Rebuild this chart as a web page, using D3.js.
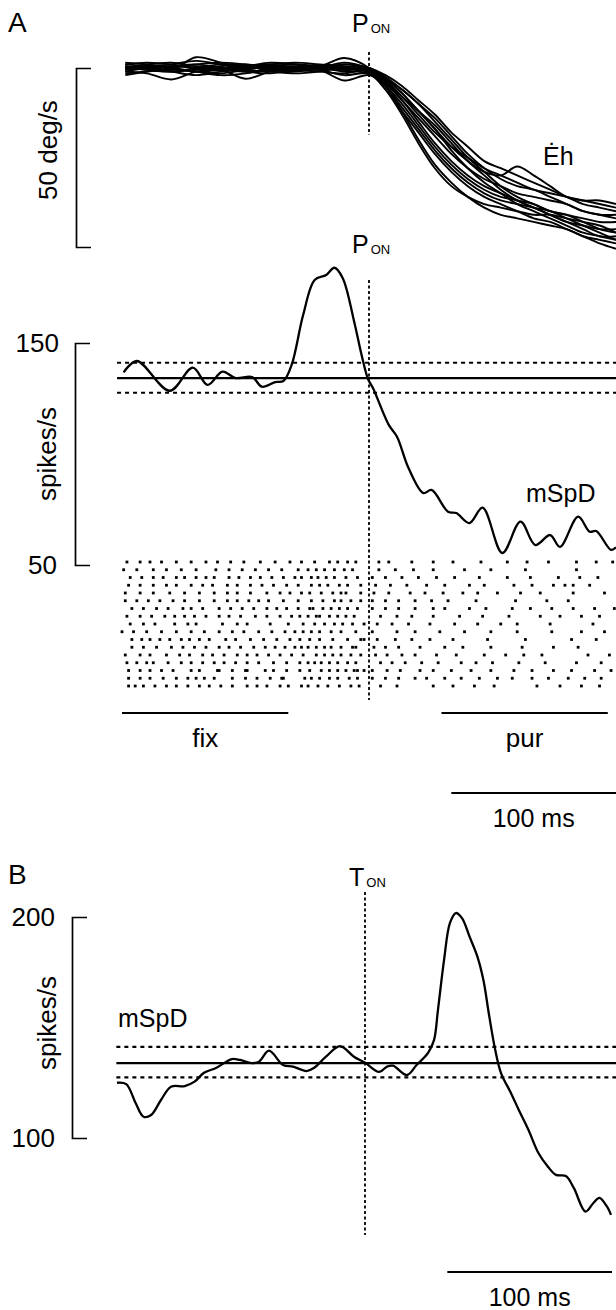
<!DOCTYPE html>
<html><head><meta charset="utf-8">
<script src="https://cdn.jsdelivr.net/npm/d3@7"></script>
<style>
html,body{margin:0;padding:0;background:#fff;}
svg{display:block;background:#fff;}
text{font-family:"Liberation Sans",Arial,Helvetica,sans-serif;fill:#000;}
</style>
</head><body>
<svg id="c" width="616" height="1310"></svg>
<script>
// ---------- DATA ----------
// Panel A, eye velocity (deg/s) — time in ms relative to pursuit onset (P_ON)
const eyeTime = [-148,-135,-120,-105,-90,-75,-60,-45,-30,-15,0,10,20,30,40,50,60,70,80,90,100,110,120,130,140,150];
const eyeTraces = [
  [1,0.5,-0.5,3,1.5,0,0.5,1,0.5,2.8,0,-5,-12,-20,-27,-32,-36,-39,-41,-42,-43,-44,-45,-47,-48,-49],
  [-1,-1.5,-3.2,-1,-0.5,-3,-1,-0.5,0,-1,-1.5,-6,-12,-18,-24,-29,-33,-36,-38,-40,-42,-43,-45,-47,-49,-50.5],
  [0,1,1.5,0.5,0,0.5,1.5,1,0,-0.5,0,-3,-7,-12,-17,-22,-26,-29,-30,-27.5,-30,-33,-36,-37,-37,-38],
  [-2,-1,0,1,1.5,1,0.5,0,-0.5,-3.5,-2,-5,-10,-16,-22,-27,-31,-34,-36,-37,-38,-40,-41,-43,-45,-46],
  [0.5,0,-1,-2,-1,0,1,1.5,1,0.5,-0.5,-4,-9,-14,-19,-24,-28,-31,-33,-35,-36,-37,-38,-40,-41,-42],
  [-0.5,0.5,1,2,1,-0.5,-1,-1.5,-1,0,-1,-3.5,-8,-13,-18,-22,-25,-28,-30,-32,-34,-35,-36,-37,-38,-39],
  [1.5,1,0,-1,-2,-1.5,0,0.5,0,1,0,-2.5,-6,-10,-15,-20,-25,-29,-33,-36,-38,-40,-41,-42,-43,-43],
  [-1,0,0.5,0,-0.5,-1,-0.5,0,0.5,0,-1,-5,-11,-17,-23,-28,-32,-35,-37,-38,-39,-40,-42,-44,-46,-48],
  [0,-0.5,-1,-0.5,0.5,1,0,-0.5,-1,-1.5,-0.5,-4,-8,-12,-16,-21,-26,-30,-34,-37,-39,-41,-43,-44,-45,-45],
  [1,1.5,1,0,-0.5,0,0.5,0,-0.5,1,-0.5,-3,-6,-10,-14,-19,-24,-28,-31,-33,-34,-36,-38,-40,-41,-41],
  [-1.5,-1,-0.5,-1,-1.5,-0.5,0.5,1,0.5,-0.5,-1,-6,-13,-21,-28,-33,-36,-38,-39,-40,-41,-41,-42,-43,-44,-46],
  [0,0.5,0,-1,-0.5,0.5,1,0,-0.5,-2,-1.5,-4.5,-9,-15,-21,-26,-30,-33,-35,-37,-39,-41,-43,-45,-47,-47],
  [0.5,-0.5,-1,0,1,0.5,-0.5,-1,0,1.5,0,-2,-5,-9,-13,-18,-22,-26,-28,-30,-32,-34,-36,-38,-39,-40],
  [-0.5,0,0.5,1,0,-1,-1.5,-0.5,0.5,0,-1,-3,-7,-12,-17,-23,-28,-32,-35,-38,-40,-42,-44,-46,-47,-48]
];

// Panel A, mean spike density (spikes/s)
const rateATime = [-149,-141,-121,-107,-98,-89,-81,-71,-65,-57,-52,-47,-40,-33,-26,-21,-16,-9,-4.5,-0.6,2.4,12,17,24,33,38,48,53,61,69,81,92,101,110,116,127,134,138,147,150];
const rateAValue = [136.8,141.9,128.5,138.9,131.1,137.1,134.2,134.7,130.3,132.4,132.9,140.1,162.6,178.4,180.6,183.9,179.3,159.6,144.6,133.8,129.7,113.1,107.8,93.7,82.4,83.8,74,73.4,68.9,75.8,55.4,69.5,59,63.5,58.2,71.8,65,65.3,56.8,58];
const refLevelsA = [141.1, 134.2, 127.6];   // upper SD, mean, lower SD
const refSpanA = [-153, 150];

// Panel A, raster: spike times (ms) per trial
const rasterTrials = [
  [-147,-139,-133,-126,-117,-108,-99,-92,-84,-76,-66,-57,-48,-41,-33,-24,-19,-13,-8,6,12,26,39,51,68,84,96,109,126,138,148],
  [-149,-141,-131,-123,-114,-105,-93,-85,-77,-69,-61,-53,-43,-37,-32,-27,-21,-15,-10,6,16,27,39,58,74,95,126],
  [-145,-138,-131,-125,-117,-112,-105,-99,-94,-85,-79,-72,-66,-59,-52,-45,-41,-35,-31,-26,-21,-14,-7,2,10,20,30,41,52,67,84,98,115,128,139],
  [-146,-139,-131,-123,-117,-108,-101,-95,-86,-80,-72,-65,-58,-50,-43,-35,-30,-25,-18,-13,-5,4,13,23,35,46,61,70,88,99,112,119,124,134],
  [-148,-139,-131,-121,-112,-103,-94,-86,-80,-72,-62,-54,-48,-41,-36,-29,-22,-17,-14,-5,3,12,25,34,45,57,66,78,92,104,124,143],
  [-148,-141,-134,-127,-119,-112,-103,-94,-86,-80,-73,-67,-61,-52,-43,-35,-28,-21,-17,-11,-5,2,10,18,28,38,48,65,89,108,121],
  [-144,-137,-129,-122,-113,-108,-101,-91,-84,-77,-70,-62,-56,-50,-43,-36,-34,-28,-23,-18,-13,-7,2,10,18,28,39,46,61,71,87,98,111,124,137,149],
  [-147,-139,-132,-124,-118,-112,-106,-99,-91,-85,-78,-69,-62,-54,-47,-42,-37,-32,-30,-24,-19,-14,-9,7,17,26,39,55,69,85,104,116,129,140],
  [-145,-137,-130,-118,-110,-105,-89,-80,-74,-60,-49,-40,-33,-27,-21,-16,-10,-3,5,14,24,37,52,66,80,90,110,136],
  [-150,-143,-135,-126,-117,-108,-100,-91,-83,-76,-67,-59,-51,-45,-40,-35,-30,-23,-17,-8,2,17,28,43,58,74,90,111,129,143],
  [-144,-138,-133,-127,-121,-114,-109,-103,-97,-87,-81,-72,-64,-56,-48,-42,-36,-30,-22,-13,-5,-3,5,16,26,37,51,72,95,123,138],
  [-144,-137,-129,-120,-113,-106,-99,-91,-85,-78,-70,-63,-57,-51,-45,-41,-37,-32,-27,-23,-17,-10,-8,3,10,18,31,46,57,74,93,112,127],
  [-148,-139,-133,-123,-115,-109,-101,-95,-88,-80,-74,-68,-61,-54,-47,-40,-32,-27,-22,-17,-11,-5,4,11,20,28,41,53,70,83,94,105,133,146],
  [-147,-141,-135,-131,-122,-114,-108,-101,-94,-88,-81,-74,-67,-58,-50,-42,-37,-33,-29,-24,-19,-13,-8,7,14,22,32,42,56,65,75,91,107,126,141],
  [-146,-139,-133,-126,-119,-108,-103,-92,-91,-83,-75,-74,-63,-58,-50,-42,-36,-29,-24,-19,-14,-9,-7,-3,2,11,19,31,39,50,62,74,88,99,112,123,137,147],
  [-146,-139,-133,-125,-117,-110,-105,-100,-94,-83,-75,-68,-60,-53,-52,-39,-35,-30,-24,-19,-12,-7,2,10,18,28,35,46,56,67,78,87,99,109,121,131,141],
  [-146,-142,-137,-130,-123,-117,-110,-103,-97,-90,-83,-74,-68,-62,-54,-49,-41,-37,-31,-25,-18,-11,-6,7,17,39,51,64,76,102,116,129,140]
];
const fixPeriod = [-150, -49];
const purPeriod = [44, 145];
const timeBarA = [50, 150];

// Panel B, mean spike density (spikes/s) — time relative to target onset (T_ON)
const rateBTime = [-150.6,-145,-139.3,-134.5,-129.9,-123.9,-117.8,-109.5,-103.5,-97.8,-90.5,-80.8,-75.9,-68.9,-64.4,-58.3,-49.8,-43.7,-35.5,-31,-23.7,-15.2,-6.7,0.3,8.5,13.4,17,25.5,31.3,38.3,41.9,44.3,48,51.6,55.2,58.9,63.5,68.3,71.9,75.5,79.1,82.6,88.6,93.4,99.3,105.3,111.1,116,122,126.8,133.9,138.7,142.3,147,149.4];
const rateBValue = [125,124.4,115.8,109.6,110.4,117.2,123.2,123.5,125.5,129.5,131.7,135.7,135.3,133.9,134.5,139.5,133,132.3,130.3,131.7,136.8,141.6,136.8,133.9,129.9,132.3,132.7,128.5,133,138.5,144.3,157.9,180.5,197.3,201.8,199.5,191.1,182,171.5,154.9,139.8,129.4,120.4,112.7,103.6,93.2,87,83.3,82.8,77.4,66.7,70.6,72.9,68.9,65.2];
const refLevelsB = [141.2, 133.9, 127.4];
const refSpanB = [-151, 153];
const timeBarB = [50, 150];

// ---------- DRAW ----------
const svg = d3.select('#c');
const xA = d3.scaleLinear().domain([-150,150]).range([122,616]);
const xB = d3.scaleLinear().domain([-150,150]).range([118,612]);
const yE = d3.scaleLinear().domain([-50,0]).range([247,68]);
const yS = d3.scaleLinear().domain([50,150]).range([565,343]);
const yB = d3.scaleLinear().domain([100,200]).range([1138,917]);
const yR = d3.scalePoint().domain(d3.range(1, rasterTrials.length+1)).range([562,686]);

const FS = 26;

function label(x, y, str, size, anchor){
  return svg.append('text').attr('x',x).attr('y',y).attr('font-size',size||FS)
    .attr('text-anchor',anchor||'start').text(str);
}
function onsetLabel(x, y, main){
  const t = svg.append('text').attr('x',x).attr('y',y).attr('font-size',25);
  t.append('tspan').text(main);
  t.append('tspan').attr('font-size',13).attr('dx',2).attr('dy',1).text('ON');
}
function bracket(scale, x){
  const g = svg.append('g').attr('transform',`translate(${x},0)`)
    .call(d3.axisRight(scale).tickValues([]).tickSizeOuter(15));
  g.select('.domain').attr('stroke','#000').attr('stroke-width',1.7);
}
function hbar(x0, x1, y){
  svg.append('line').attr('x1',x0).attr('x2',x1).attr('y1',y).attr('y2',y)
    .attr('stroke','#000').attr('stroke-width',2.2);
}
function vdash(x, y0, y1){
  svg.append('line').attr('x1',x).attr('x2',x).attr('y1',y0).attr('y2',y1)
    .attr('stroke','#000').attr('stroke-width',1.8).attr('stroke-dasharray','3,2.5');
}

// Panel letters
label(8, 32, 'A', 28);
label(8, 884, 'B', 28);

// ---- Top: eye velocity ----
onsetLabel(352, 32, 'P');
bracket(yE, 76);
svg.append('text').attr('transform','translate(57,150) rotate(-90)')
  .attr('text-anchor','middle').attr('font-size',FS).text('50 deg/s');
const eyeLine = d3.line().x((d,i)=>xA(eyeTime[i])).y(d=>yE(d)).curve(d3.curveCatmullRom.alpha(0.5));
svg.append('g').selectAll('path').data(eyeTraces).join('path')
  .attr('d', eyeLine).attr('fill','none').attr('stroke','#000').attr('stroke-width',1.9);
vdash(xA(0), yE(4.5), yE(-18.7));
label(543, 165, 'Ėh', 25);

// ---- Middle: spike density A ----
onsetLabel(352, 253, 'P');
bracket(yS, 75);
label(59, 352, '150', FS, 'end');
label(57, 574, '50', FS, 'end');
svg.append('text').attr('transform','translate(56,454) rotate(-90)')
  .attr('text-anchor','middle').attr('font-size',FS).text('spikes/s');
refLevelsA.forEach((v,i)=>{
  const l = svg.append('line').attr('x1',xA(refSpanA[0])).attr('x2',xA(refSpanA[1]))
    .attr('y1',yS(v)).attr('y2',yS(v)).attr('stroke','#000').attr('stroke-width',2.2);
  if(i!==1) l.attr('stroke-dasharray','4,4');
});
const rateALine = d3.line().x((d,i)=>xA(rateATime[i])).y(d=>yS(d)).curve(d3.curveCatmullRom.alpha(0.5));
svg.append('path').datum(rateAValue).attr('d',rateALine).attr('fill','none')
  .attr('stroke','#000').attr('stroke-width',2.3);
label(526, 502, 'mSpD', 25);

// raster
const rg = svg.append('g');
rasterTrials.forEach((trial, i)=>{
  rg.selectAll(null).data(trial).join('rect')
    .attr('x', d=>xA(d)-1.4).attr('y', yR(i+1)-1.4)
    .attr('width',2.8).attr('height',2.8).attr('fill','#000');
});
vdash(xA(0), 280, 700);

// fix / pur bars
hbar(xA(fixPeriod[0]), xA(fixPeriod[1]), 713);
hbar(xA(purPeriod[0]), xA(purPeriod[1]), 713);
label((xA(fixPeriod[0])+xA(fixPeriod[1]))/2, 747, 'fix', FS, 'middle');
label((xA(purPeriod[0])+xA(purPeriod[1]))/2, 747, 'pur', FS, 'middle');
hbar(xA(timeBarA[0]), xA(timeBarA[1]), 793);
label((xA(timeBarA[0])+xA(timeBarA[1]))/2, 827, '100 ms', 25, 'middle');

// ---- Panel B ----
onsetLabel(349, 886, 'T');
vdash(xB(0), 892, 1235);
bracket(yB, 72);
label(55, 926, '200', FS, 'end');
label(55, 1147, '100', FS, 'end');
svg.append('text').attr('transform','translate(56,1023) rotate(-90)')
  .attr('text-anchor','middle').attr('font-size',FS).text('spikes/s');
label(118, 1027, 'mSpD', 25);
refLevelsB.forEach((v,i)=>{
  const l = svg.append('line').attr('x1',xB(refSpanB[0])).attr('x2',xB(refSpanB[1]))
    .attr('y1',yB(v)).attr('y2',yB(v)).attr('stroke','#000').attr('stroke-width',2.2);
  if(i!==1) l.attr('stroke-dasharray','4,4');
});
const rateBLine = d3.line().x((d,i)=>xB(rateBTime[i])).y(d=>yB(d)).curve(d3.curveCatmullRom.alpha(0.5));
svg.append('path').datum(rateBValue).attr('d',rateBLine).attr('fill','none')
  .attr('stroke','#000').attr('stroke-width',2.3);
hbar(xB(timeBarB[0]), xB(timeBarB[1]), 1272);
label((xB(timeBarB[0])+xB(timeBarB[1]))/2, 1306, '100 ms', 25, 'middle');
</script>
</body></html>
